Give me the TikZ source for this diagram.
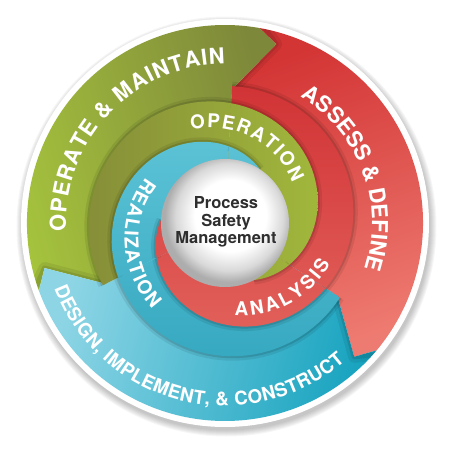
\documentclass[tikz,border=0pt]{standalone}
\usepackage{fontspec}
\setmainfont{TeX Gyre Heros}
\usetikzlibrary{decorations.text}

\definecolor{bandgreenA}{HTML}{A6C43D}
\definecolor{bandgreenB}{HTML}{7E883A}
\definecolor{bandredA}{HTML}{D33434}
\definecolor{bandredB}{HTML}{EE7B71}
\definecolor{bandcyanA}{HTML}{17A3BF}
\definecolor{bandcyanB}{HTML}{8DD5E5}
\definecolor{ringgreenA}{HTML}{868E38}
\definecolor{ringgreenB}{HTML}{A6BF3C}
\definecolor{ringredA}{HTML}{D13335}
\definecolor{ringredB}{HTML}{E4665F}
\definecolor{ringcyanA}{HTML}{35A8C0}
\definecolor{ringcyanB}{HTML}{66C9DB}
\definecolor{labelgrey}{HTML}{2E2E2E}

\pgfdeclareradialshading{hubshade}{\pgfpoint{3bp}{4bp}}{color(0bp)=(white); color(14bp)=(white); color(21bp)=(black!15); color(25bp)=(black!32); color(50bp)=(black!32)}

\newcommand{\bandfont}{\bfseries\fontsize{22}{22}\selectfont}
\newcommand{\basefont}{\bfseries\fontsize{18.8}{18.8}\selectfont}
\newcommand{\ringfont}{\bfseries\fontsize{19}{19}\selectfont}

% outer arrow band, turned by #1, shaded with style #2
\newcommand{\outerband}[2]{%
  \pgfmathsetmacro\bandtail{80+#1}
  \pgfmathsetmacro\bandhead{-40+#1}
  \pgfmathsetmacro\bandin{-33+#1}
  \pgfmathsetmacro\bandinend{87+#1}
  \shade[#2] ({80+#1}:198) arc[start angle=\bandtail, end angle=\bandhead, radius=198]
    -- ({-46+#1}:186) -- ({-33+#1}:134) -- ({-33+#1}:100)
    arc[start angle=\bandin, end angle=\bandinend, radius=100]
    -- ({87+#1}:134) -- ({74+#1}:186) -- cycle;
  \begin{scope}
    \clip ({80+#1}:198) arc[start angle=\bandtail, end angle=\bandhead, radius=198]
      -- ({-46+#1}:186) -- ({-33+#1}:134) -- ({-33+#1}:100)
      arc[start angle=\bandin, end angle=\bandinend, radius=100]
      -- ({87+#1}:134) -- ({74+#1}:186) -- cycle;
    \draw[notchshadow] ({80+#1}:204) -- ({74+#1}:186) -- ({87+#1}:134);
    \draw[notchshadowcore] ({80+#1}:204) -- ({74+#1}:186) -- ({87+#1}:134);
  \end{scope}}

% one piece of an inner spiral arm starting at #1, from angle #2 to #3
\newcommand{\ringpiece}[4]{%
  \draw[ringshadow] plot[domain=#2:#3, samples=36, variable=\t] ({\t}:{64+73*cos((#1-\t)/3)});
  \draw[ringshadowcore] plot[domain=#2:#3, samples=36, variable=\t] ({\t}:{64+73*cos((#1-\t)/3)});
  \begin{scope}
    \clip (0,0) -- plot[domain=#2:#3, samples=36, variable=\t] ({\t}:{64+73*cos((#1-\t)/3)}) -- cycle;
    \shade[#4] (-140,-140) rectangle (140,140);
  \end{scope}}

\begin{document}
\begin{tikzpicture}[
    x=1pt, y=1pt,
    notchshadow/.style={draw=black, draw opacity=0.07, line width=12pt, line join=round},
    notchshadowcore/.style={draw=black, draw opacity=0.10, line width=5pt, line join=round},
    ringshadow/.style={draw=black, draw opacity=0.08, line width=9pt},
    ringshadowcore/.style={draw=black, draw opacity=0.12, line width=4pt},
    redband/.style={top color=bandredA, bottom color=bandredB, shading angle=20},
    greenband/.style={left color=bandgreenA, right color=bandgreenB, shading angle=105},
    cyanband/.style={left color=bandcyanB, right color=bandcyanA, shading angle=75},
    redring/.style={top color=ringredA, bottom color=ringredB},
    greenring/.style={left color=ringgreenA, right color=ringgreenB},
    cyanring/.style={top color=ringcyanB, bottom color=ringcyanA},
    curvedlabel/.style={decorate, decoration={text along path, text align=fit to path, text color=white}},
    hublabel/.style={align=center, text=labelgrey, font=\bfseries\fontsize{16.5}{17.5}\selectfont}]

\useasboundingbox (-225,-227) rectangle (225,223);

% white disc
\foreach \s in {1,...,7}
  \fill[black, opacity=0.035] (1.5,-3.5) circle ({203+\s});
\fill[white] (0,0) circle (204);

% outer bands
\outerband{0}{redband}
\outerband{120}{greenband}
\outerband{240}{cyanband}

% inner spiral arms
\ringpiece{87}{87}{-33}{redring}
\ringpiece{207}{207}{87}{greenring}
\ringpiece{327}{327}{207}{cyanring}
\ringpiece{87}{-33}{-153}{redring}
\ringpiece{207}{87}{-33}{greenring}
\ringpiece{327}{207}{87}{cyanring}
\ringpiece{87}{-153}{-183}{redring}
\ringpiece{207}{-33}{-63}{greenring}
\ringpiece{327}{87}{57}{cyanring}

\shade[shading=hubshade] (0,0) circle (64);
\node[hublabel] (hub) at (1,1) {Process\\Safety\\Management};

% labels
\path[curvedlabel, decoration={text={|\bandfont|OPERATE {\&} MAINTAIN}}]
  (183:159) arc[start angle=183, end angle=90, radius=159];
\path[curvedlabel, decoration={text={|\bandfont|ASSESS {\&} DEFINE}}]
  (59:147) arc[start angle=59, end angle=-18, radius=147];
\path[curvedlabel, decoration={text={|\basefont|DESIGN, IMPLEMENT, {\&} CONSTRUCT}}]
  (201:183) arc[start angle=201, end angle=311, radius=183];
\path[curvedlabel, decoration={text={|\ringfont|OPERATION}}]
  plot[domain=110:31, samples=40, variable=\t] ({\t}:{78.5+21*(\t-31)/79});
\path[curvedlabel, decoration={text={|\ringfont|ANALYSIS}}]
  plot[domain=-84:-21, samples=40, variable=\t] ({\t}:{93+20*(\t+84)/63});
\path[curvedlabel, decoration={text={|\ringfont|REALIZATION}}]
  plot[domain=150:230, samples=40, variable=\t] ({\t}:{91+22*(\t-150)/80});

\end{tikzpicture}
\end{document}
